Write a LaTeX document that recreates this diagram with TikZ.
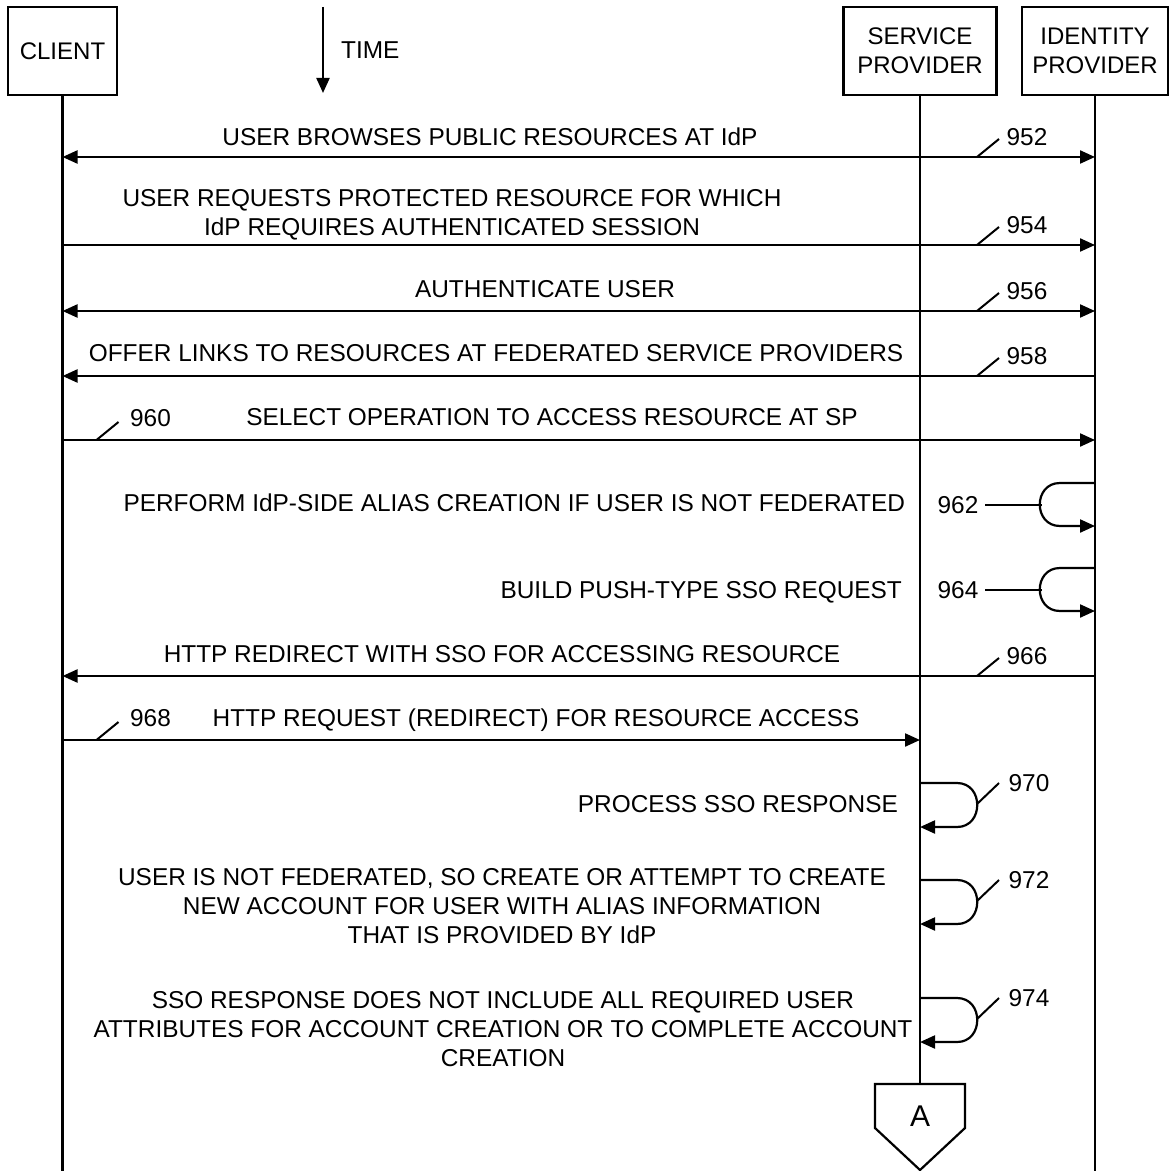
\documentclass[tikz,border=0pt]{standalone}
\usepackage{fontspec}
\setmainfont{Liberation Sans}
\usetikzlibrary{arrows.meta,calc}

\tikzset{
  lbl/.style={inner sep=0pt,font=\fontsize{12.2}{14.5}\selectfont,align=center,text depth=0pt},
  actor/.style={draw,line width=1.1pt,minimum height=44pt,inner sep=2pt,
    font=\fontsize{12}{14.5}\selectfont,align=center},
  tick/.style={line width=1pt},
}

\begin{document}
\begin{tikzpicture}[x=0.5pt,y=-0.5pt,>={Triangle[length=7.5pt,width=6.5pt]},line width=1.1pt]
  \useasboundingbox (0,0) rectangle (1169,1171);
  % the parties along the top
  \node[actor,minimum width=54.5pt] (client) at (62.5,51) {CLIENT};
  \node[actor,minimum width=76.5pt] (sp) at (920,51) {SERVICE\\PROVIDER};
  \node[actor,minimum width=73pt] (idp) at (1095,51) {IDENTITY\\PROVIDER};
  % time runs downwards
  \coordinate (t0) at (323,7);
  \coordinate (t1) at (323,93);
  \draw[->] (t0) -- (t1);
  \node[lbl,anchor=west] (time) at (340,50) {TIME};
  % lifelines, the service provider one ends in the off-page connector
  \coordinate (conA) at (sp.south |- 0,1084);
  \draw (client.south) -- (client.south |- 0,1171);
  \draw (sp.south) -- (conA);
  \draw (idp.south) -- (idp.south |- 0,1171);
  \draw (conA) -- ++(45,0) -- ++(0,44) -- ++(-45,42) -- ++(-45,-42) -- ++(0,-44) -- cycle;
  \node[font=\fontsize{15}{18}\selectfont] (A) at ($(conA)+(0,32)$) {A};
  % message levels on the lifelines
  \foreach \n/\y in {952/157,954/245,956/311,958/376,960/440,966/676,968/740}{
    \coordinate (cl\n) at (client.south |- 0,\y);
    \coordinate (sp\n) at (sp.south |- 0,\y);
    \coordinate (id\n) at (idp.south |- 0,\y);
  }
  % messages between client and the providers
  \draw[<->] (cl952) -- (id952);
  \node[lbl] (m952) at (490,137) {USER BROWSES PUBLIC RESOURCES AT IdP};
  \draw[->] (cl954) -- (id954);
  \node[lbl] (m954) at (452,212) {USER REQUESTS PROTECTED RESOURCE FOR WHICH\\IdP REQUIRES AUTHENTICATED SESSION};
  \draw[<->] (cl956) -- (id956);
  \node[lbl] (m956) at (545,289) {AUTHENTICATE USER};
  \draw[<-] (cl958) -- (id958);
  \node[lbl] (m958) at (496,353) {OFFER LINKS TO RESOURCES AT FEDERATED SERVICE PROVIDERS};
  \draw[->] (cl960) -- (id960);
  \node[lbl] (m960) at (552,417) {SELECT OPERATION TO ACCESS RESOURCE AT SP};
  \draw[<-] (cl966) -- (id966);
  \node[lbl] (m966) at (502,654) {HTTP REDIRECT WITH SSO FOR ACCESSING RESOURCE};
  \draw[->] (cl968) -- (sp968);
  \node[lbl] (m968) at (536,718) {HTTP REQUEST (REDIRECT) FOR RESOURCE ACCESS};
  % reference numbers with their ticks
  \foreach \n in {952,954,956,958,966}{
    \coordinate (k\n) at ($(id\n)+(-118,0)$);
    \draw[tick] (k\n) -- ++(22,-18);
    \node[lbl] (r\n) at ($(id\n)+(-68,-20)$) {\n};
  }
  \foreach \n in {960,968}{
    \coordinate (k\n) at ($(cl\n)+(34,0)$);
    \draw[tick] (k\n) -- ++(22,-18);
    \node[lbl] (r\n) at ($(cl\n)+(88,-22)$) {\n};
  }
  % steps done at the identity provider
  \foreach \n/\y in {962/483,964/568}{
    \coordinate (ia\n) at (idp.south |- 0,\y);
    \coordinate (ib\n) at (idp.south |- 0,\y+43);
    \coordinate (il\n) at ($(idp.south |- 0,\y+21.5)+(-53,0)$);
    \draw[->] (ia\n) -- ++(-35,0) .. controls +(-27,0) and +(-27,0) .. ++(0,43) -- (ib\n);
    \node[lbl] (r\n) at ($(il\n)+(-84,0)$) {\n};
    \draw[tick] (r\n.east) ++(6,0) -- (il\n);
  }
  \node[lbl,anchor=east] (m962) at (906,503) {PERFORM IdP-SIDE ALIAS CREATION IF USER IS NOT FEDERATED};
  \node[lbl,anchor=east] (m964) at (903,590) {BUILD PUSH-TYPE SSO REQUEST};
  % steps done at the service provider
  \foreach \n/\y in {970/783,972/880,974/998}{
    \coordinate (sa\n) at (sp.south |- 0,\y);
    \coordinate (sb\n) at (sp.south |- 0,\y+44);
    \coordinate (sr\n) at ($(sp.south |- 0,\y+21)+(57,0)$);
    \draw[->] (sa\n) -- ++(37,0) .. controls +(27,0) and +(27,0) .. ++(0,44) -- (sb\n);
    \draw[tick] (sr\n) -- ++(22,-21);
    \node[lbl] (r\n) at ($(sr\n)+(52,-21)$) {\n};
  }
  \node[lbl,anchor=east] (m970) at (899,804) {PROCESS SSO RESPONSE};
  \node[lbl] (m972) at (502,906) {USER IS NOT FEDERATED, SO CREATE OR ATTEMPT TO CREATE\\NEW ACCOUNT FOR USER WITH ALIAS INFORMATION\\THAT IS PROVIDED BY IdP};
  \node[lbl] (m974) at (503,1029) {SSO RESPONSE DOES NOT INCLUDE ALL REQUIRED USER\\ATTRIBUTES FOR ACCOUNT CREATION OR TO COMPLETE ACCOUNT\\CREATION};
\end{tikzpicture}
\end{document}
